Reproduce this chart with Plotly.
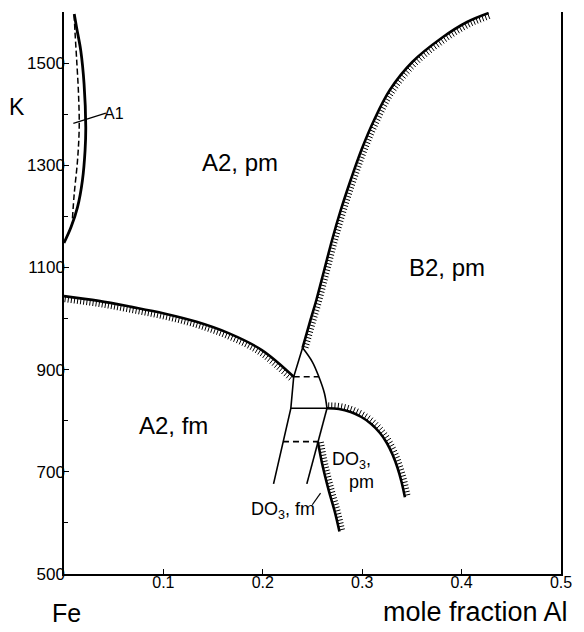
import numpy as np
import plotly.graph_objects as go

# ---------------- data (mole fraction Al, temperature K) ----------------
# Curie line A2 pm / A2 fm (hatched below)
curie_x = [0.0, 0.0349, 0.0677, 0.1006, 0.1334, 0.1661, 0.1990, 0.2311]
curie_T = [1044, 1034.6, 1022.9, 1010.0, 993.6, 970.9, 938.3, 886.0]

# A2 / B2 order-disorder line (hatched on the B2 side)
b2_x = [0.2400, 0.2480, 0.2539, 0.2618, 0.2697, 0.2785, 0.2884, 0.2992, 0.3120,
        0.3278, 0.3504, 0.3799, 0.4055, 0.4272]
b2_T = [942.8, 997.2, 1036.3, 1095.0, 1153.7, 1212.5, 1271.2, 1329.9, 1388.6,
        1447.3, 1502.1, 1549.1, 1580.4, 1598.0]

# two-phase lens: left and right boundaries
lensL_x = [0.2400, 0.2311, 0.2282, 0.2203, 0.2108]
lensL_T = [942.8, 886.0, 824.3, 759.1, 676.4]
lensR_x = [0.2400, 0.2498, 0.2564, 0.2620, 0.2646]
lensR_T = [942.8, 915.4, 886.0, 853.7, 824.3]
lensR2_x = [0.2646, 0.2554, 0.2443]
lensR2_T = [824.3, 759.1, 676.4]

# horizontal tie lines
tie_solid_x = [0.2282, 0.2646]
tie_solid_T = [824.3, 824.3]
tie_dash1_x = [0.2311, 0.2564]
tie_dash1_T = [886.0, 886.0]
tie_dash2_x = [0.2203, 0.2554]
tie_dash2_T = [759.1, 759.1]

# DO3 fm / DO3 pm line (hatched)
do3f_x = [0.2554, 0.2596, 0.2662, 0.2728, 0.2771]
do3f_T = [759.1, 716.9, 664.7, 619.2, 583.2]
# DO3 pm / B2 line (hatched)
do3p_x = [0.2646, 0.2766, 0.2884, 0.2992, 0.3091, 0.3179, 0.3248, 0.3307, 0.3356,
          0.3396, 0.3430]
do3p_T = [824.3, 823.0, 817.1, 807.3, 793.6, 776.0, 756.4, 732.9, 707.5, 680.1, 650.0]

# gamma loop (A1)
a1_outer_x = [0.0, 0.0071, 0.0136, 0.0185, 0.0212, 0.0219, 0.0202, 0.0169, 0.0126, 0.0103]
a1_outer_T = [1148, 1179, 1218, 1270, 1329, 1374.6, 1459, 1524, 1570, 1596]
a1_inner_x = [0.0085, 0.0103, 0.0136, 0.0153, 0.0146, 0.0126, 0.0110, 0.0103]
a1_inner_T = [1196, 1244.5, 1309.5, 1374.6, 1439.8, 1511, 1563.5, 1593]
a1_lead_x = [0.0094, 0.0421]
a1_lead_T = [1382, 1402]
do3_lead_x = [0.2498, 0.2581]
do3_lead_T = [635.5, 658.3]

x_ticks = [0.1, 0.2, 0.3, 0.4, 0.5]
x_ticktext = ["0.1", "0.2", "0.3", "0.4", "0.5"]
y_ticks = [500, 700, 900, 1100, 1300, 1500]

XR = (0.0, 0.5)
YR = (500, 1600)
W, H = 508, 562
ML, MR, MT, MB = 64, 12, 12, 58

FONT = "Liberation Sans, Arial, Helvetica, sans-serif"


def to_px(x, y):
    return ((np.asarray(x, float) - XR[0]) / (XR[1] - XR[0]) * W,
            (np.asarray(y, float) - YR[0]) / (YR[1] - YR[0]) * H)


def from_px(px, py):
    return (px / W * (XR[1] - XR[0]) + XR[0], py / H * (YR[1] - YR[0]) + YR[0])


def catmull(px, py, n=20):
    pts = np.column_stack([px, py])
    p = np.vstack([2 * pts[0] - pts[1], pts, 2 * pts[-1] - pts[-2]])
    out = []
    for i in range(1, len(p) - 2):
        p0, p1, p2, p3 = p[i - 1], p[i], p[i + 1], p[i + 2]
        for t in np.linspace(0, 1, n, endpoint=False):
            t2, t3 = t * t, t * t * t
            out.append(0.5 * ((2 * p1) + (-p0 + p2) * t + (2 * p0 - 5 * p1 + 4 * p2 - p3) * t2
                              + (-p0 + 3 * p1 - 3 * p2 + p3) * t3))
    out.append(p[-2])
    out = np.array(out)
    return out[:, 0], out[:, 1]


def hatch(xs, ys, side, spacing=3.2, length=6.0):
    px, py = to_px(xs, ys)
    cx, cy = catmull(px, py)
    seg = np.hypot(np.diff(cx), np.diff(cy))
    s = np.concatenate([[0], np.cumsum(seg)])
    ss = np.arange(spacing / 2, s[-1], spacing)
    hx = np.interp(ss, s, cx)
    hy = np.interp(ss, s, cy)
    idx = np.clip(np.searchsorted(s, ss) - 1, 0, len(seg) - 1)
    tx = np.diff(cx)[idx] / seg[idx]
    ty = np.diff(cy)[idx] / seg[idx]
    nx, ny = -ty * side, tx * side
    X, Y = [], []
    for a, b, c, d in zip(hx, hy, nx, ny):
        x0, y0 = from_px(a, b)
        x1, y1 = from_px(a + c * length, b + d * length)
        X += [x0, x1, None]
        Y += [y0, y1, None]
    return X, Y


fig = go.Figure()


def line(x, y, width=2.5, dash="solid", shape="spline"):
    fig.add_trace(go.Scatter(x=x, y=y, mode="lines", showlegend=False, hoverinfo="skip",
                             line=dict(color="black", width=width, dash=dash, shape=shape)))


# hatches
for xs, ys, side in [(curie_x, curie_T, -1), (b2_x, b2_T, -1),
                     (do3p_x, do3p_T, 1), (do3f_x, do3f_T, 1)]:
    hx, hy = hatch(xs, ys, side)
    fig.add_trace(go.Scatter(x=hx, y=hy, mode="lines", showlegend=False, hoverinfo="skip",
                             line=dict(color="black", width=1)))

line(curie_x, curie_T, 2.6)
line(b2_x, b2_T, 2.6)
line(do3p_x, do3p_T, 2.6)
line(do3f_x, do3f_T, 2.6)
line(lensL_x, lensL_T, 1.6, shape="linear")
line(lensR_x, lensR_T, 1.6)
line(lensR2_x, lensR2_T, 1.6, shape="linear")
line(tie_solid_x, tie_solid_T, 1.6, shape="linear")
line(tie_dash1_x, tie_dash1_T, 1.6, dash="6px,4px", shape="linear")
line(tie_dash2_x, tie_dash2_T, 1.6, dash="6px,4px", shape="linear")
line(a1_outer_x, a1_outer_T, 2.8)
line(a1_inner_x, a1_inner_T, 1.5, dash="6px,3px")
line(a1_lead_x, a1_lead_T, 1.2, shape="linear")
line(do3_lead_x, do3_lead_T, 1.2, shape="linear")

ann = []


def label(text, x, y, size, xref="x", yref="y", xanchor="center"):
    ann.append(dict(text=text, x=x, y=y, xref=xref, yref=yref, showarrow=False,
                    xanchor=xanchor, yanchor="middle",
                    font=dict(family=FONT, size=size, color="black")))


label("A2, pm", 0.177, 1305, 24)
label("B2, pm", 0.385, 1100, 24)
label("A2, fm", 0.1098, 790, 24)
label("DO<sub>3</sub>,", 0.289, 722, 18)
label("pm", 0.2997, 680, 18)
label("DO<sub>3</sub>, fm", 0.22, 624, 18)
label("A1", 0.0505, 1402, 16)
label("K", (16 - ML) / W, 1415, 23, xref="paper")
label("Fe", (67 - ML) / W, (574 - 613) / H, 25, xref="paper", yref="paper")
label("mole fraction Al", (485 - ML) / W, (574 - 612) / H, 27, xref="paper", yref="paper")

fig.update_layout(
    width=584, height=632,
    margin=dict(l=ML, r=MR, t=MT, b=MB),
    paper_bgcolor="white", plot_bgcolor="white",
    annotations=ann,
    xaxis=dict(range=list(XR), showgrid=False, zeroline=False, showline=True,
               linecolor="black", linewidth=1.5, mirror=False,
               tickvals=x_ticks, ticktext=x_ticktext, ticks="inside", ticklen=5,
               tickwidth=1.2, tickcolor="black", ticklabelstandoff=-7,
               tickfont=dict(family=FONT, size=16, color="black")),
    yaxis=dict(range=list(YR), showgrid=False, zeroline=False, showline=True,
               linecolor="black", linewidth=1.5, mirror=True,
               tickvals=y_ticks, ticks="inside", ticklen=5, tickwidth=1.2,
               tickcolor="black", ticklabelstandoff=-6,
               minor=dict(dtick=100, tick0=500, ticks="inside", ticklen=4,
                          tickwidth=1, tickcolor="black"),
               tickfont=dict(family=FONT, size=17, color="black")),
)

fig.write_html("out.html", config={"displayModeBar": False},
               post_script="document.body.style.margin='0';")
